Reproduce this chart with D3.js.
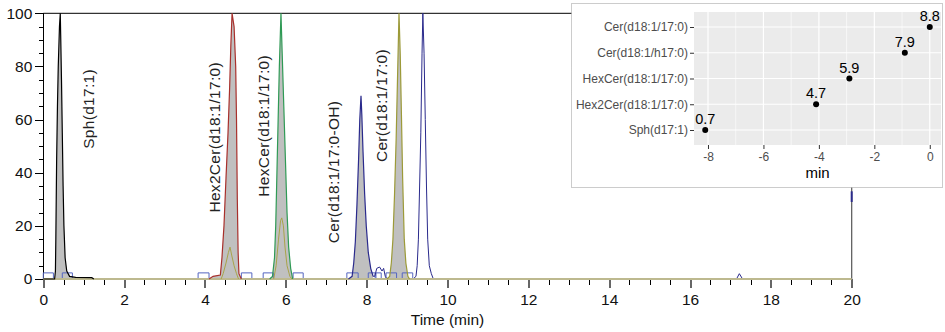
<!DOCTYPE html>
<meta charset="utf-8">
<style>
body {margin: 0; background: #fff;}
svg {display: block; font-family: "Liberation Sans", Arial, sans-serif;}
.axis path, .axis line {shape-rendering: crispEdges;}
</style>
<body>
<script src="https://d3js.org/d3.v7.min.js"></script>
<div id="chart"></div>
</body>

<script>
// 1 data: chromatogram traces, [time (min), relative intensity (%)]
var sphTrace = [[0.0,0],[0.28,0],[0.30,3],[0.31,15],[0.32,30],[0.33,45],[0.35,65],[0.37,80],[0.40,95],[0.42,100],
  [0.43,92],[0.45,75],[0.47,55],[0.49,35],[0.51,20],[0.54,8],[0.58,3],[0.65,1],[0.8,0.6],[1.2,0.5],[1.25,0]];
var hex2cerTrace = [[4.1,0],[4.2,1],[4.38,1.5],[4.42,8],[4.47,20],[4.52,38],[4.57,55],[4.61,72],[4.64,88],[4.67,100],
  [4.72,95],[4.76,80],[4.78,60],[4.80,30],[4.82,10],[4.84,2],[4.9,0]];
var hexcerTrace = [[5.6,0],[5.67,1],[5.72,8],[5.75,20],[5.78,40],[5.81,60],[5.84,80],[5.88,100],[5.91,85],[5.95,65],
  [5.99,45],[6.03,25],[6.07,12],[6.12,4],[6.17,0]];
var cerOHTrace = [[7.55,0],[7.64,1],[7.68,6],[7.72,14],[7.76,28],[7.80,45],[7.83,60],[7.86,69],[7.88,62],[7.91,48],
  [7.95,32],[7.99,20],[8.04,10],[8.10,4],[8.16,1]];
var cerTrace = [[8.5,0],[8.57,1],[8.61,6],[8.65,15],[8.69,32],[8.73,53],[8.77,80],[8.80,100],[8.83,85],[8.86,62],
  [8.89,38],[8.93,15],[8.97,6],[9.02,1],[9.06,0]];
// navy channel after the Cer(d18:1/17:0-OH) peak
var navyTail = [[8.16,1],[8.2,1],[8.25,4],[8.32,4.5],[8.38,3],[8.42,4],[8.46,1],[8.5,0],[9.15,0],[9.22,1],[9.25,5],
  [9.28,15],[9.31,35],[9.34,55],[9.37,85],[9.39,100],[9.42,85],[9.45,60],[9.48,35],[9.51,15],[9.55,5],[9.6,2],
  [9.65,0],[17.15,0],[17.22,2],[17.3,0],[19.99,0]];
var navyEnd = [[20,33],[20,29]];
// olive channel: small co-eluting peaks
var oliveSmallA = [[4.4,0],[4.45,2],[4.52,6],[4.58,10],[4.62,12],[4.66,9],[4.72,5],[4.78,2],[4.83,0]];
var oliveSmallB = [[5.7,0],[5.76,5],[5.82,15],[5.87,22],[5.90,23],[5.94,20],[5.98,12],[6.03,5],[6.10,1],[6.15,0]];
var baseline = [[0,0],[20,0]];
// integration start / end markers (min)
var markerStart = [0.0, 0.47, 3.83, 4.90, 5.44, 6.18, 7.51, 8.04, 8.23, 8.48, 8.88];
var markerEnd   = [0.25, 0.72, 4.10, 5.16, 5.69, 6.43, 7.79, 8.21, 8.36, 8.74, 9.14];
// peak annotations
var peakLabels = ["Sph(d17:1)", "Hex2Cer(d18:1/17:0)", "HexCer(d18:1/17:0)", "Cer(d18:1/17:0-OH)", "Cer(d18:1/17:0)"];
var peakLabelTime = [1.26, 4.38, 5.59, 7.32, 8.50];
var peakLabelLevel = [49, 25, 31, 13.5, 44];

// inset: retention time shift relative to Cer(d18:1/17:0)
var compounds = ["Sph(d17:1)", "Hex2Cer(d18:1/17:0)", "HexCer(d18:1/17:0)", "Cer(d18:1/h17:0)", "Cer(d18:1/17:0)"];
var rtLabels = ["0.7", "4.7", "5.9", "7.9", "8.8"];
var shiftMin = [-8.1, -4.1, -2.9, -0.9, 0];

var xTicks = [0, 2, 4, 6, 8, 10, 12, 14, 16, 18, 20];
var yTicks = [0, 20, 40, 60, 80, 100];
var insetTicks = [-8, -6, -4, -2, 0];

// 2 setup
var width = 945, height = 332;
var x = d3.scaleLinear().domain([0, 20]).range([43.3, 851.7]);
var y = d3.scaleLinear().domain([0, 100]).range([279, 13.3]);

var svg = d3.select("#chart").append("svg")
    .attr("width", width)
    .attr("height", height);

var line = d3.line().x(function(d){return x(d[0]);}).y(function(d){return y(d[1]);});
var area = d3.area().x(function(d){return x(d[0]);}).y0(y(0)).y1(function(d){return y(d[1]);});

// frame (top + right)
svg.append("line").attr("x1", x(0)).attr("x2", x(20)).attr("y1", y(100)).attr("y2", y(100))
    .attr("stroke", "#000").attr("stroke-width", 1);
svg.append("line").attr("x1", x(20)).attr("x2", x(20)).attr("y1", y(100)).attr("y2", y(0))
    .attr("stroke", "#555").attr("stroke-width", 1.2);

// gray fills
var filled = [sphTrace, hex2cerTrace, hexcerTrace, cerOHTrace, cerTrace];
svg.selectAll(".fill").data(filled).enter().append("path")
    .attr("class", "fill")
    .attr("d", area)
    .attr("fill", "#c0c0c0");

// 3 axes
var yAxis = svg.append("g").attr("class", "axis").attr("transform", "translate(" + x(0) + ",0)");
yAxis.call(d3.axisLeft(y).tickValues(d3.range(0, 101, 5)).tickSize(4).tickFormat(""));
yAxis.append("g").call(d3.axisLeft(y).tickValues(yTicks).tickSize(8).tickPadding(3).tickFormat(function(d){return d;}));
yAxis.selectAll("path").attr("stroke", "#000");
yAxis.selectAll("text").attr("font-size", "15.5px").attr("fill", "#111").attr("font-family", null);

var xAxis = svg.append("g").attr("class", "axis").attr("transform", "translate(0," + y(0) + ")");
xAxis.call(d3.axisBottom(x).tickValues(d3.range(0, 20.01, 0.5)).tickSize(6).tickFormat(""));
var xMajor = xAxis.append("g").call(d3.axisBottom(x).tickValues(xTicks).tickSize(9).tickPadding(6).tickFormat(function(d){return d;}));
xMajor.selectAll("line").attr("stroke", "#666").attr("stroke-width", 2);
xAxis.selectAll("text").attr("font-size", "15.5px").attr("fill", "#111").attr("font-family", null);

svg.append("text")
    .attr("x", (x(0) + x(20)) / 2).attr("y", 325)
    .attr("text-anchor", "middle")
    .attr("font-size", "15.5px").attr("fill", "#111")
    .text("Time (min)");

// integration markers
var markerH = 2.3;
svg.selectAll(".marker").data(markerStart).enter().append("path")
    .attr("class", "marker")
    .attr("d", function(d, i) {
        return "M" + x(d) + "," + y(0) + "V" + y(markerH) + "H" + x(markerEnd[i]) + "V" + y(0);
    })
    .attr("fill", "none").attr("stroke", "#5566c0").attr("stroke-width", 1);

// traces
var traces = [
  {pts: navyTail, color: "#2a2a8c", w: 1},
  {pts: navyEnd, color: "#2a2a8c", w: 2},
  {pts: baseline, color: "#bdb98f", w: 2},
  {pts: oliveSmallA, color: "#a8a44a", w: 1},
  {pts: oliveSmallB, color: "#a8a44a", w: 1},
  {pts: sphTrace, color: "#000000", w: 1.2},
  {pts: hex2cerTrace, color: "#a8302c", w: 1.2},
  {pts: hexcerTrace, color: "#2f9a55", w: 1.2},
  {pts: cerOHTrace, color: "#2a2a8c", w: 1.2},
  {pts: cerTrace, color: "#9c9a38", w: 1.2}
];
svg.selectAll(".trace").data(traces).enter().append("path")
    .attr("class", "trace")
    .attr("d", function(d){return line(d.pts);})
    .attr("fill", "none")
    .attr("stroke", function(d){return d.color;})
    .attr("stroke-width", function(d){return d.w;});

// peak names
svg.selectAll(".plabel").data(peakLabels).enter().append("text")
    .attr("class", "plabel")
    .attr("transform", function(d, i){
        return "translate(" + x(peakLabelTime[i]) + "," + y(peakLabelLevel[i]) + ") rotate(-90)";
    })
    .attr("font-size", "15.5px").attr("fill", "#222")
    .attr("letter-spacing", "0.3px")
    .text(function(d){return d;});

// 4 inset
var inset = svg.append("g");
inset.append("rect")
    .attr("x", 571.5).attr("y", 3.5).attr("width", 371).attr("height", 184)
    .attr("fill", "#fff").attr("stroke", "#999").attr("stroke-dasharray", "1,1");

var xi = d3.scaleLinear().domain([-8.505, 0.405]).range([694, 941]);
var yi = d3.scalePoint().domain(compounds).range([130, 27]);

inset.append("rect")
    .attr("x", 694).attr("y", 12).attr("width", 941 - 694).attr("height", 133)
    .attr("fill", "#ebebeb");

inset.selectAll(".gminor").data([-7, -5, -3, -1]).enter().append("line")
    .attr("x1", xi).attr("x2", xi).attr("y1", 12).attr("y2", 145)
    .attr("stroke", "#fff").attr("stroke-width", 0.6);
inset.selectAll(".gmajor").data(insetTicks).enter().append("line")
    .attr("x1", xi).attr("x2", xi).attr("y1", 12).attr("y2", 145)
    .attr("stroke", "#fff").attr("stroke-width", 1.2);
inset.selectAll(".gy").data(compounds).enter().append("line")
    .attr("x1", 694).attr("x2", 941).attr("y1", yi).attr("y2", yi)
    .attr("stroke", "#fff").attr("stroke-width", 1.2);

var yiAxis = inset.append("g").attr("transform", "translate(694,0)")
    .call(d3.axisLeft(yi).tickSize(4).tickPadding(2));
var xiAxis = inset.append("g").attr("transform", "translate(0,145)")
    .call(d3.axisBottom(xi).tickValues(insetTicks).tickSize(4).tickPadding(3).tickFormat(function(d){return String(d);}));
[yiAxis, xiAxis].forEach(function(a){
    a.select(".domain").remove();
    a.selectAll("line").attr("stroke", "#333");
    a.selectAll("text").attr("font-size", "12px").attr("fill", "#4d4d4d").attr("font-family", null);
});

inset.append("text")
    .attr("x", (694 + 941) / 2).attr("y", 178)
    .attr("text-anchor", "middle").attr("font-size", "15px")
    .text("min");

inset.selectAll(".pt").data(compounds).enter().append("circle")
    .attr("cx", function(d, i){return xi(shiftMin[i]);})
    .attr("cy", function(d){return yi(d);})
    .attr("r", 3).attr("fill", "#000");
inset.selectAll(".ptl").data(compounds).enter().append("text")
    .attr("x", function(d, i){return xi(shiftMin[i]);})
    .attr("y", function(d){return yi(d) - 6;})
    .attr("text-anchor", "middle").attr("font-size", "14.5px")
    .text(function(d, i){return rtLabels[i];});
</script>
